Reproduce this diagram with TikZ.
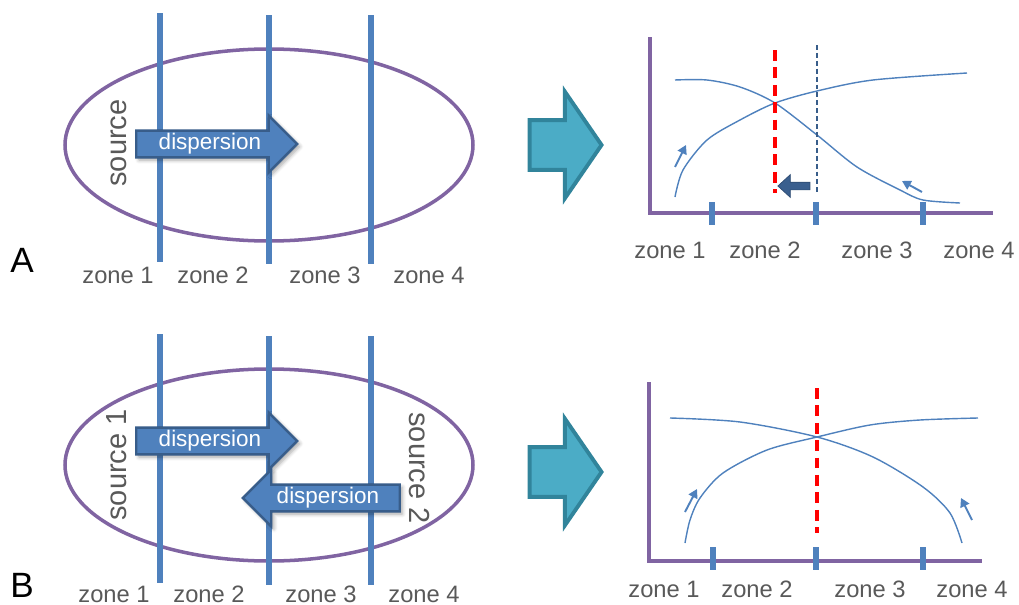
\documentclass[tikz,border=0pt]{standalone}
\usepackage{fontspec}
\setmainfont{Liberation Sans}
\usetikzlibrary{arrows.meta,shapes.arrows,shadows.blur}
\definecolor{zonecol}{HTML}{4F81BD}
\definecolor{ringcol}{HTML}{8064A2}
\definecolor{arrowrim}{HTML}{385D8A}
\definecolor{flowfill}{HTML}{4BACC6}
\definecolor{flowrim}{HTML}{31849B}
\definecolor{labelgrey}{HTML}{595959}
\definecolor{shiftcol}{HTML}{3A5F8E}
\tikzset{
  zoneline/.style={draw=zonecol, line width=2.9pt},
  ring/.style={draw=ringcol, line width=2pt},
  chartaxis/.style={draw=ringcol, line width=2pt},
  zonetick/.style={draw=zonecol, line width=2.9pt},
  profile/.style={draw=zonecol, line width=0.8pt},
  trend/.style={draw=zonecol, line width=1.1pt, -{Triangle[length=5pt,width=5.5pt]}},
  frontline/.style={draw=red, line width=1.9pt, dash pattern=on 6.2pt off 3.7pt},
  oldfront/.style={draw=arrowrim, line width=0.7pt, dash pattern=on 2.8pt off 1.7pt},
  zonelbl/.style={font=\fontsize{13.5}{16}\selectfont, text=labelgrey, anchor=base, inner sep=0pt},
  srclbl/.style={font=\fontsize{16.5}{19}\selectfont, text=labelgrey, anchor=base, inner sep=0pt},
  panellbl/.style={font=\fontsize{20}{24}\selectfont, anchor=base, inner sep=0pt},
  dispersion/.style={
    single arrow,
    single arrow head extend=0.3cm,
    fill=zonecol,
    draw=arrowrim,
    line width=1.4pt,
    text=white,
    font=\fontsize{12.8}{15}\selectfont,
    text height=9pt,
    text depth=2.5pt,
    inner ysep=1.2pt,
    inner xsep=0pt,
    minimum height=3.22cm,
    blur shadow={shadow blur steps=5, shadow xshift=1.5pt, shadow yshift=-1.5pt, shadow opacity=35}
  },
  flow/.style={
    single arrow,
    single arrow head extend=0.57cm,
    single arrow tip angle=111,
    fill=flowfill,
    draw=flowrim,
    line width=2.2pt,
    text height=0pt,
    text depth=0pt,
    inner ysep=0.46cm,
    inner xsep=0pt,
    minimum height=1.44cm
  },
  shiftarrow/.style={
    single arrow,
    shape border rotate=180,
    single arrow head extend=0.15cm,
    single arrow tip angle=85,
    fill=shiftcol,
    draw=shiftcol!80!black,
    line width=0.4pt,
    text height=0pt,
    text depth=0pt,
    inner ysep=0.07cm,
    inner xsep=0pt,
    minimum height=0.64cm
  }
}

\begin{document}
\begin{tikzpicture}[x=0.02cm,y=-0.02cm]
\path[use as bounding box] (0,0) rectangle (1019,605);

% --- A: one source
\draw[ring] (269,145) ellipse [x radius=204, y radius=96];
\draw[zoneline] (160,13) -- (160,262);
\draw[zoneline] (269,15) -- (269,264);
\draw[zoneline] (371,15) -- (371,264);
\node[srclbl, rotate=90] (srcA) at (126,143) {source};
\node[dispersion] (dispA) at (210,144) {dispersion};
\node[zonelbl] (zA1) at (118,283) {zone 1};
\node[zonelbl] (zA2) at (213,283) {zone 2};
\node[zonelbl] (zA3) at (325,283) {zone 3};
\node[zonelbl] (zA4) at (429,283) {zone 4};
\node[panellbl] (labA) at (22,272) {A};

\node[flow] (flowA) at (557,145) {};

\draw[chartaxis] (650,37) -- (650,213) -- (993,213);
\draw[zonetick] (712,202) -- (712,225);
\draw[zonetick] (816,202) -- (816,225);
\draw[zonetick] (923,202) -- (923,225);
\draw[profile] plot[smooth] coordinates {(675,197) (683,170) (707,140) (740,120) (775,103) (817,91) (873,80) (967,73)};
\draw[profile] plot[smooth] coordinates {(675,80) (707,80) (740,87) (775,103) (817,135) (857,167) (900,190) (923,200) (960,203)};
\draw[frontline] (775,50) -- (775,193);
\draw[oldfront] (817,45) -- (817,192);
\node[shiftarrow] (shiftA) at (796,186) {};
\draw[trend] (675,167) -- (686,145);
\draw[trend] (922,192) -- (902,181);
\node[zonelbl] (cA1) at (670,258) {zone 1};
\node[zonelbl] (cA2) at (765,258) {zone 2};
\node[zonelbl] (cA3) at (877,258) {zone 3};
\node[zonelbl] (cA4) at (979,258) {zone 4};

% --- B: two sources
\draw[ring] (269,465) ellipse [x radius=204, y radius=96];
\draw[zoneline] (160,334) -- (160,583);
\draw[zoneline] (269,336) -- (269,585);
\draw[zoneline] (371,336) -- (371,585);
\node[srclbl, rotate=90] (srcB1) at (126,465) {source 1};
\node[srclbl, rotate=-90] (srcB2) at (409,468) {source 2};
\node[dispersion] (dispB1) at (210,441) {dispersion};
\node[dispersion, shape border rotate=180, minimum height=3.14cm] (dispB2) at (328,498) {dispersion};
\node[zonelbl] (zB1) at (114,602) {zone 1};
\node[zonelbl] (zB2) at (209,602) {zone 2};
\node[zonelbl] (zB3) at (321,602) {zone 3};
\node[zonelbl] (zB4) at (424,602) {zone 4};
\node[panellbl] (labB) at (22,597) {B};

\node[flow] (flowB) at (557,472) {};

\draw[chartaxis] (649,382) -- (649,561) -- (982,561);
\draw[zonetick] (713,547) -- (713,570);
\draw[zonetick] (816,547) -- (816,570);
\draw[zonetick] (923,547) -- (923,570);
\draw[profile] plot[smooth] coordinates {(685,543) (690,520) (700,498) (723,473) (767,450) (817,437) (870,425) (920,420) (978,418)};
\draw[profile] plot[smooth] coordinates {(670,418) (740,422) (817,437) (873,457) (923,487) (950,513) (962,543)};
\draw[frontline] (817,388) -- (817,533);
\draw[trend] (685,512) -- (697,489);
\draw[trend] (972,520) -- (961,498);
\node[zonelbl] (cB1) at (664,597) {zone 1};
\node[zonelbl] (cB2) at (757,597) {zone 2};
\node[zonelbl] (cB3) at (870,597) {zone 3};
\node[zonelbl] (cB4) at (972,597) {zone 4};
\end{tikzpicture}
\end{document}
